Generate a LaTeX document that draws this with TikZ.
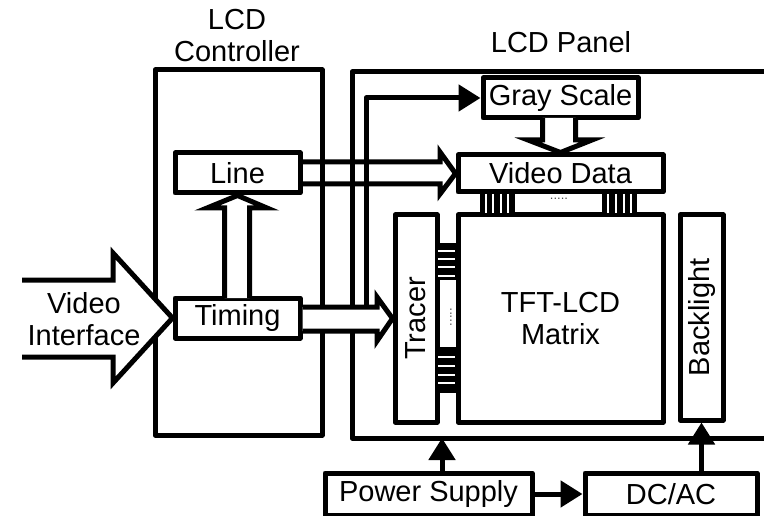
\documentclass[tikz,border=0pt]{standalone}
\usepackage{fontspec}
\setmainfont{Liberation Sans}
\usetikzlibrary{arrows.meta,calc}
\begin{document}
\begin{tikzpicture}[x=1pt,y=-1pt,
  every node/.style={font=\fontsize{29}{32}\selectfont, inner sep=0pt, align=center},
  blk/.style={draw, line width=5pt, line join=round, fill=white, rectangle},
  frame/.style={draw, line width=5pt, line join=round, rectangle},
  wire/.style={line width=5pt, line join=round},
  tip/.style={-{Triangle[length=22pt,width=26pt]}},
  hollow/.style={draw, line width=5pt, line join=miter, fill=white},
  hollowopen/.style={draw, line width=5pt, line join=miter},
  combwhite/.style={white, line width=1.6pt},
  dotlbl/.style={font=\fontsize{13}{13}\selectfont, text=black!70},
]
\useasboundingbox (0,0) rectangle (764,516);

% containers
\node[frame, minimum width=167, minimum height=365] (ctrl) at (238.5,252.5) {};
\node (ctrllbl) at (237,36) {LCD\\Controller};
\coordinate (ptop) at (764,72);
\coordinate (pbot) at (764,438);
\draw[wire] (ptop) -| (352,438) -- (pbot);
\node (plbl) at (561,42) {LCD Panel};

% boxes
\node[blk, minimum width=125, minimum height=40] (line) at (237.5,173) {Line};
\node[blk, minimum width=125, minimum height=40] (timing) at (237.5,318) {Timing};
\node[blk, minimum width=155, minimum height=40] (gray) at (560.5,98) {Gray Scale};
\node[blk, minimum width=205, minimum height=37] (video) at (560.5,173.5) {Video Data};
\node[blk, minimum width=205, minimum height=207] (matrix) at (560.5,318.5) {TFT-LCD\\Matrix};
\node[blk, minimum width=42, minimum height=207] (tracer) at (416,318.5) {};
\node[rotate=90] (tracerlbl) at (tracer.center) {Tracer};
\node[blk, minimum width=43, minimum height=205] (backlight) at (701.5,317.5) {};
\node[rotate=90] (backlbl) at (backlight.center) {Backlight};
\node[blk, minimum width=207, minimum height=42] (power) at (428.5,494) {Power Supply};
\node[blk, minimum width=172, minimum height=42] (dcac) at (671,494) {DC/AC};

% combs between video data and matrix
\fill (480,192) rectangle (515,216);
\fill (602,192) rectangle (637,216);
\foreach \x in {486,493,501,508,608,616,624,631}
  \draw[combwhite] (\x,194) -- (\x,213);
\node[dotlbl] (hdots) at (559,199) {.....};
% combs between tracer and matrix
\fill (437,243) rectangle (459,280);
\fill (437,347) rectangle (459,393);
\foreach \y in {251,259,267,276,357,366,375,383}
  \draw[combwhite] (438,\y) -- (455,\y);
\node[dotlbl, rotate=90] (vdots) at (451,317) {.....};

% thin signal from timing arrow to gray scale
\coordinate (tbranch) at (366,307);
\draw[wire, tip] (tbranch) |- (gray.west);

% Line -> Video Data (hollow, lines visible through)
\draw[hollowopen] (line.east |- 0,162) -- (440,162) -- (440,152) -- (video.west) -- (440,194) -- (440,184) -- (line.east |- 0,184);

% Timing -> Tracer (hollow, white)
\path[hollow] (timing.east |- 0,307) -- (377,307) -- (377,297) -- (tracer.west) -- (377,341) -- (377,331) -- (timing.east |- 0,331);

% Timing -> Line (hollow up)
\path[hollow] (224.5,298) -- (224.5,208) -- (207,208) -- (line.south) -- (267,208) -- (249.5,208) -- (249.5,298);

% Gray -> Video Data (hollow down)
\path[hollow] (542.5,118) -- (542.5,140) -- (528,140) -- (video.north) -- (592,140) -- (575.5,140) -- (575.5,118);

% Video interface
\path[hollow] (22,280) -- (113,280) -- (113,253) -- (timing.west) -- (113,383) -- (113,357) -- (22,357);
\node (vilbl) at (84,319) {Video\\Interface};

% power connections
\coordinate (pin) at (442,438);
\draw[wire, tip] (power.north -| pin) -- (pin);
\draw[wire, tip] (power.east) -- (dcac.west);
\draw[wire, tip] (dcac.north -| backlight.south) -- (backlight.south);
\end{tikzpicture}
\end{document}
